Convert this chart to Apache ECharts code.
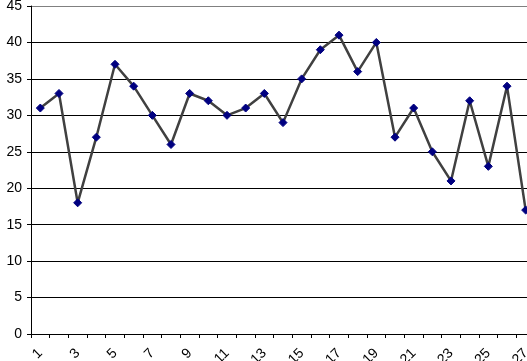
<!DOCTYPE html>
<html>
<head>
<meta charset="utf-8">
<script src="https://cdn.jsdelivr.net/npm/echarts@6/dist/echarts.min.js"></script>
<style>
html,body{margin:0;padding:0;background:#fff;}
#chart{width:527px;height:361px;}
</style>
</head>
<body>
<div id="chart"></div>
<script>
var categories = ['1','2','3','4','5','6','7','8','9','10','11','12','13','14','15','16','17','18','19','20','21','22','23','24','25','26','27'];
var values = [31,33,18,27,37,34,30,26,33,32,30,31,33,29,35,39,41,36,40,27,31,25,21,32,23,34,17];
var yTicks = [0,5,10,15,20,25,30,35,40,45];

var chart = echarts.init(document.getElementById('chart'), null, {renderer:'canvas'});
var splitColors = yTicks.map(function(v, i){ return i === yTicks.length - 1 ? '#808080' : '#000000'; });
chart.setOption({
  animation: false,
  backgroundColor: '#ffffff',
  grid: {left: 31, right: -8, top: 6, bottom: 27, containLabel: false, outerBoundsMode: 'none'},
  xAxis: {
    type: 'category',
    data: categories,
    boundaryGap: true,
    axisLine: {show: true, lineStyle: {color: '#000', width: 1}},
    axisTick: {show: true, interval: 0, length: 4, lineStyle: {color: '#000'}},
    axisLabel: {interval: 1, rotate: 45, margin: 17, color: '#000', fontFamily: 'Liberation Sans, Arial', fontSize: 14},
    splitLine: {show: false}
  },
  yAxis: {
    type: 'value',
    min: 0, max: 45, interval: 5,
    axisLine: {show: true, lineStyle: {color: '#000', width: 1}},
    axisTick: {show: true, length: 4, lineStyle: {color: '#000'}},
    axisLabel: {margin: 9, color: '#000', fontFamily: 'Liberation Sans, Arial', fontSize: 14},
    splitLine: {show: true, lineStyle: {color: splitColors, width: 1}}
  },
  series: [{
    type: 'line',
    data: values,
    symbol: 'diamond',
    symbolSize: 8,
    itemStyle: {color: '#000080', borderColor: '#000080'},
    lineStyle: {color: '#404040', width: 2.5},
    z: 3
  }]
});
</script>
</body>
</html>
